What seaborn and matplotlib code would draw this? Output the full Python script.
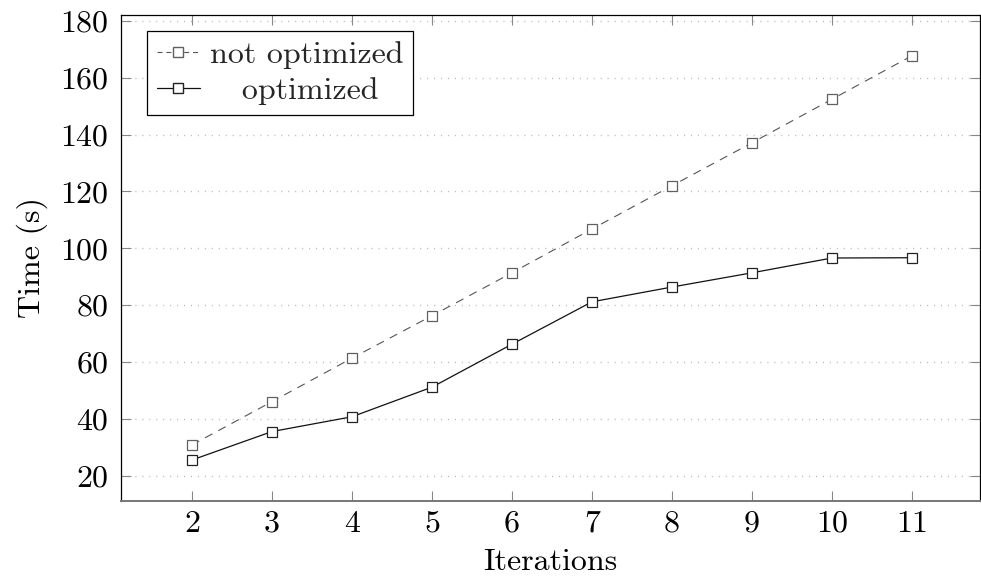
import matplotlib
matplotlib.use("Agg")
import matplotlib.pyplot as plt
import seaborn as sns
import pandas as pd
from matplotlib.lines import Line2D

iterations = [2, 3, 4, 5, 6, 7, 8, 9, 10, 11]
not_optimized = [30.9, 46.1, 61.4, 76.3, 91.4, 106.8, 122.0, 137.1, 152.4, 167.7]
optimized = [25.6, 35.6, 40.8, 51.2, 66.3, 81.2, 86.4, 91.4, 96.6, 96.7]
series_labels = ["not optimized", "optimized"]
y_ticks = [20, 40, 60, 80, 100, 120, 140, 160, 180]

sns.set_theme(style="white")
plt.rcParams["font.family"] = ["cmr10", "DejaVu Serif"]
plt.rcParams["mathtext.fontset"] = "cm"
plt.rcParams["axes.formatter.use_mathtext"] = True

df_no = pd.DataFrame({"Iterations": iterations, "Time": not_optimized})
df_o = pd.DataFrame({"Iterations": iterations, "Time": optimized})

fig = plt.figure(figsize=(9.81, 5.80), dpi=100)
ax = fig.add_axes([0.123, 0.1367, 0.876, 0.8374])

gray = "#555555"
black = "#111111"
sns.lineplot(data=df_no, x="Iterations", y="Time", ax=ax, color=gray,
             linewidth=0.8, marker="s", markersize=7.7, markerfacecolor="white",
             markeredgecolor="#606060", markeredgewidth=0.9)
ax.lines[-1].set_dashes([7.5, 6])
sns.lineplot(data=df_o, x="Iterations", y="Time", ax=ax, color=black,
             linewidth=0.9, marker="s", markersize=7.7, markerfacecolor="white",
             markeredgecolor="#222222", markeredgewidth=0.9)

ax.set_xlim(1.11, 11.85)
ax.set_ylim(11.3, 182.0)
ax.set_xticks(iterations)
ax.set_xticklabels([str(i) for i in iterations])
ax.set_yticks(y_ticks)
ax.set_yticklabels([str(v) for v in y_ticks])

ax.yaxis.grid(True, color="#bbbbbb", linestyle=(0, (0.8, 4.2)), linewidth=1.0)
ax.xaxis.grid(False)

for side in ["left", "top", "right"]:
    ax.spines[side].set_color("#000000")
    ax.spines[side].set_linewidth(0.9)
ax.spines["bottom"].set_color("#777777")
ax.spines["bottom"].set_linewidth(1.4)

ax.tick_params(axis="both", which="both", direction="in", length=7.5,
               width=0.8, color="#888888", labelsize=23, labelcolor="black")
ax.tick_params(axis="x", pad=7, top=True, bottom=True)
ax.tick_params(axis="y", pad=9, left=True, right=True)

ax.set_xlabel("Iterations", fontsize=23, labelpad=8, color="black")
ax.set_ylabel("Time (s)", fontsize=23, labelpad=9, color="black")

handles = [
    Line2D([], [], color=gray, linewidth=0.8, dashes=[4.5, 3.5], marker="s",
           markersize=6.5, markerfacecolor="white", markeredgecolor="#606060"),
    Line2D([], [], color=black, linewidth=0.9, marker="s",
           markersize=6.5, markerfacecolor="white", markeredgecolor="#222222"),
]
labels = [series_labels[0], "   " + series_labels[1]]
leg = ax.legend(handles, labels, loc="upper left", bbox_to_anchor=(0.031, 0.967),
                borderaxespad=0, fontsize=23, frameon=True, fancybox=False,
                edgecolor="black", framealpha=1, handlelength=1.35,
                handletextpad=0.3, borderpad=0.3, labelspacing=0.25)
leg.get_frame().set_linewidth(0.9)

fig.savefig("out.png", dpi=100)
